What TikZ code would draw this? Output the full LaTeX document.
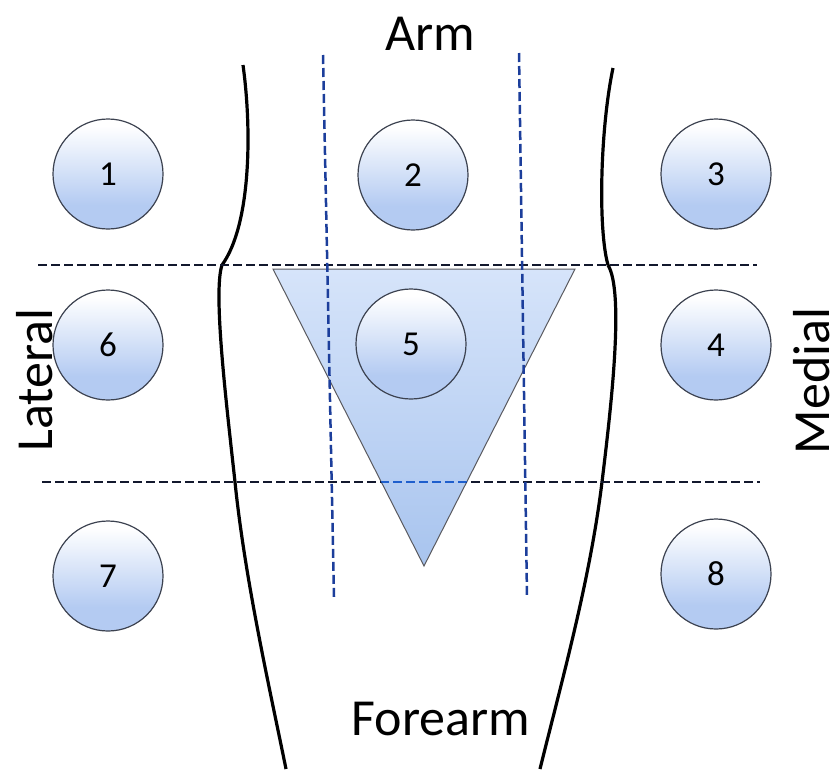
\documentclass[tikz,border=0pt]{standalone}
\usepackage{fontspec}
\setmainfont{Carlito}
\definecolor{ballblue}{RGB}{180,203,242}
\definecolor{tritop}{RGB}{214,228,250}
\definecolor{tribot}{RGB}{168,196,238}
\definecolor{hline}{RGB}{18,24,45}
\definecolor{vline}{RGB}{28,62,155}
\definecolor{inblue}{RGB}{30,95,205}
\definecolor{ballrim}{RGB}{60,66,80}
\pgfdeclareverticalshading{ballfill}{100bp}{color(0bp)=(ballblue); color(36bp)=(ballblue); color(72bp)=(white); color(100bp)=(white)}
\tikzset{
  ball/.style={circle, minimum size=110pt, inner sep=0pt, draw=ballrim, line width=1.2pt, shading=ballfill, font=\fontsize{35}{35}\selectfont},
  hdash/.style={draw=hline, line width=2.8pt, dash pattern=on 9pt off 4pt},
  vdash/.style={draw=vline, line width=2.5pt, dash pattern=on 9pt off 4pt},
  body/.style={draw=black, line width=3.2pt},
  tri/.style={draw={rgb,255:red,90;green,90;blue,95}, line width=1pt, top color=tritop, bottom color=tribot},
  biglabel/.style={font=\fontsize{52}{52}\selectfont, inner sep=0pt, anchor=base}
}
\begin{document}
\begin{tikzpicture}[x=1pt, y=-1pt]
\useasboundingbox (0,0) rectangle (837,769);
% triangle
\coordinate (tA) at (273,269);
\coordinate (tB) at (575,269);
\coordinate (tC) at (424,566);
\path[tri] (tA) -- (tB) -- (tC) -- cycle;
% body outline
\coordinate (lu0) at (243,65);
\coordinate (lj) at (222,265);
\coordinate (lm) at (235,482);
\coordinate (lb) at (286,769);
\coordinate (ru0) at (613,68);
\coordinate (rj) at (608,265);
\coordinate (rm) at (602,482);
\coordinate (rb) at (540,769);
\draw[body] (lu0) .. controls (252,130) and (251,225) .. (lj);
\draw[body] (lj) .. controls (213,292) and (226,400) .. (lm) .. controls (245,580) and (270,690) .. (lb);
\draw[body] (ru0) .. controls (600,130) and (598,230) .. (rj);
\draw[body] (rj) .. controls (624,292) and (612,400) .. (rm) .. controls (590,580) and (562,680) .. (rb);
% dashed grid
\coordinate (h1a) at (38,265);
\coordinate (h1b) at (757,265);
\coordinate (h2a) at (42,482);
\coordinate (h2b) at (760,482);
\coordinate (v1a) at (323,55);
\coordinate (v1b) at (334,597);
\coordinate (v2a) at (519,53);
\coordinate (v2b) at (527,597);
\draw[hdash] (h1a) -- (h1b);
\draw[hdash] (h2a) -- (h2b);
\draw[vdash] (v1a) -- (v1b);
\draw[vdash] (v2a) -- (v2b);
\begin{scope}
\clip (tA) -- (tB) -- (tC) -- cycle;
\draw[hdash, draw=inblue] (h2a) -- (h2b);
\end{scope}
% circles
\node[ball] (c1) at (108,174) {1};
\node[ball] (c2) at (413,175) {2};
\node[ball] (c3) at (716,174) {3};
\node[ball] (c6) at (108,345) {6};
\node[ball] (c5) at (411,344) {5};
\node[ball] (c4) at (716,345) {4};
\node[ball] (c7) at (108,576) {7};
\node[ball] (c8) at (716,574) {8};
% labels
\node[biglabel] (arm) at (430,50) {Arm};
\node[biglabel] (forearm) at (441,735) {Forearm};
\node[biglabel, rotate=90] (lateral) at (52,380) {Lateral};
\node[biglabel, rotate=90] (medial) at (829,381) {Medial};
\end{tikzpicture}
\end{document}
